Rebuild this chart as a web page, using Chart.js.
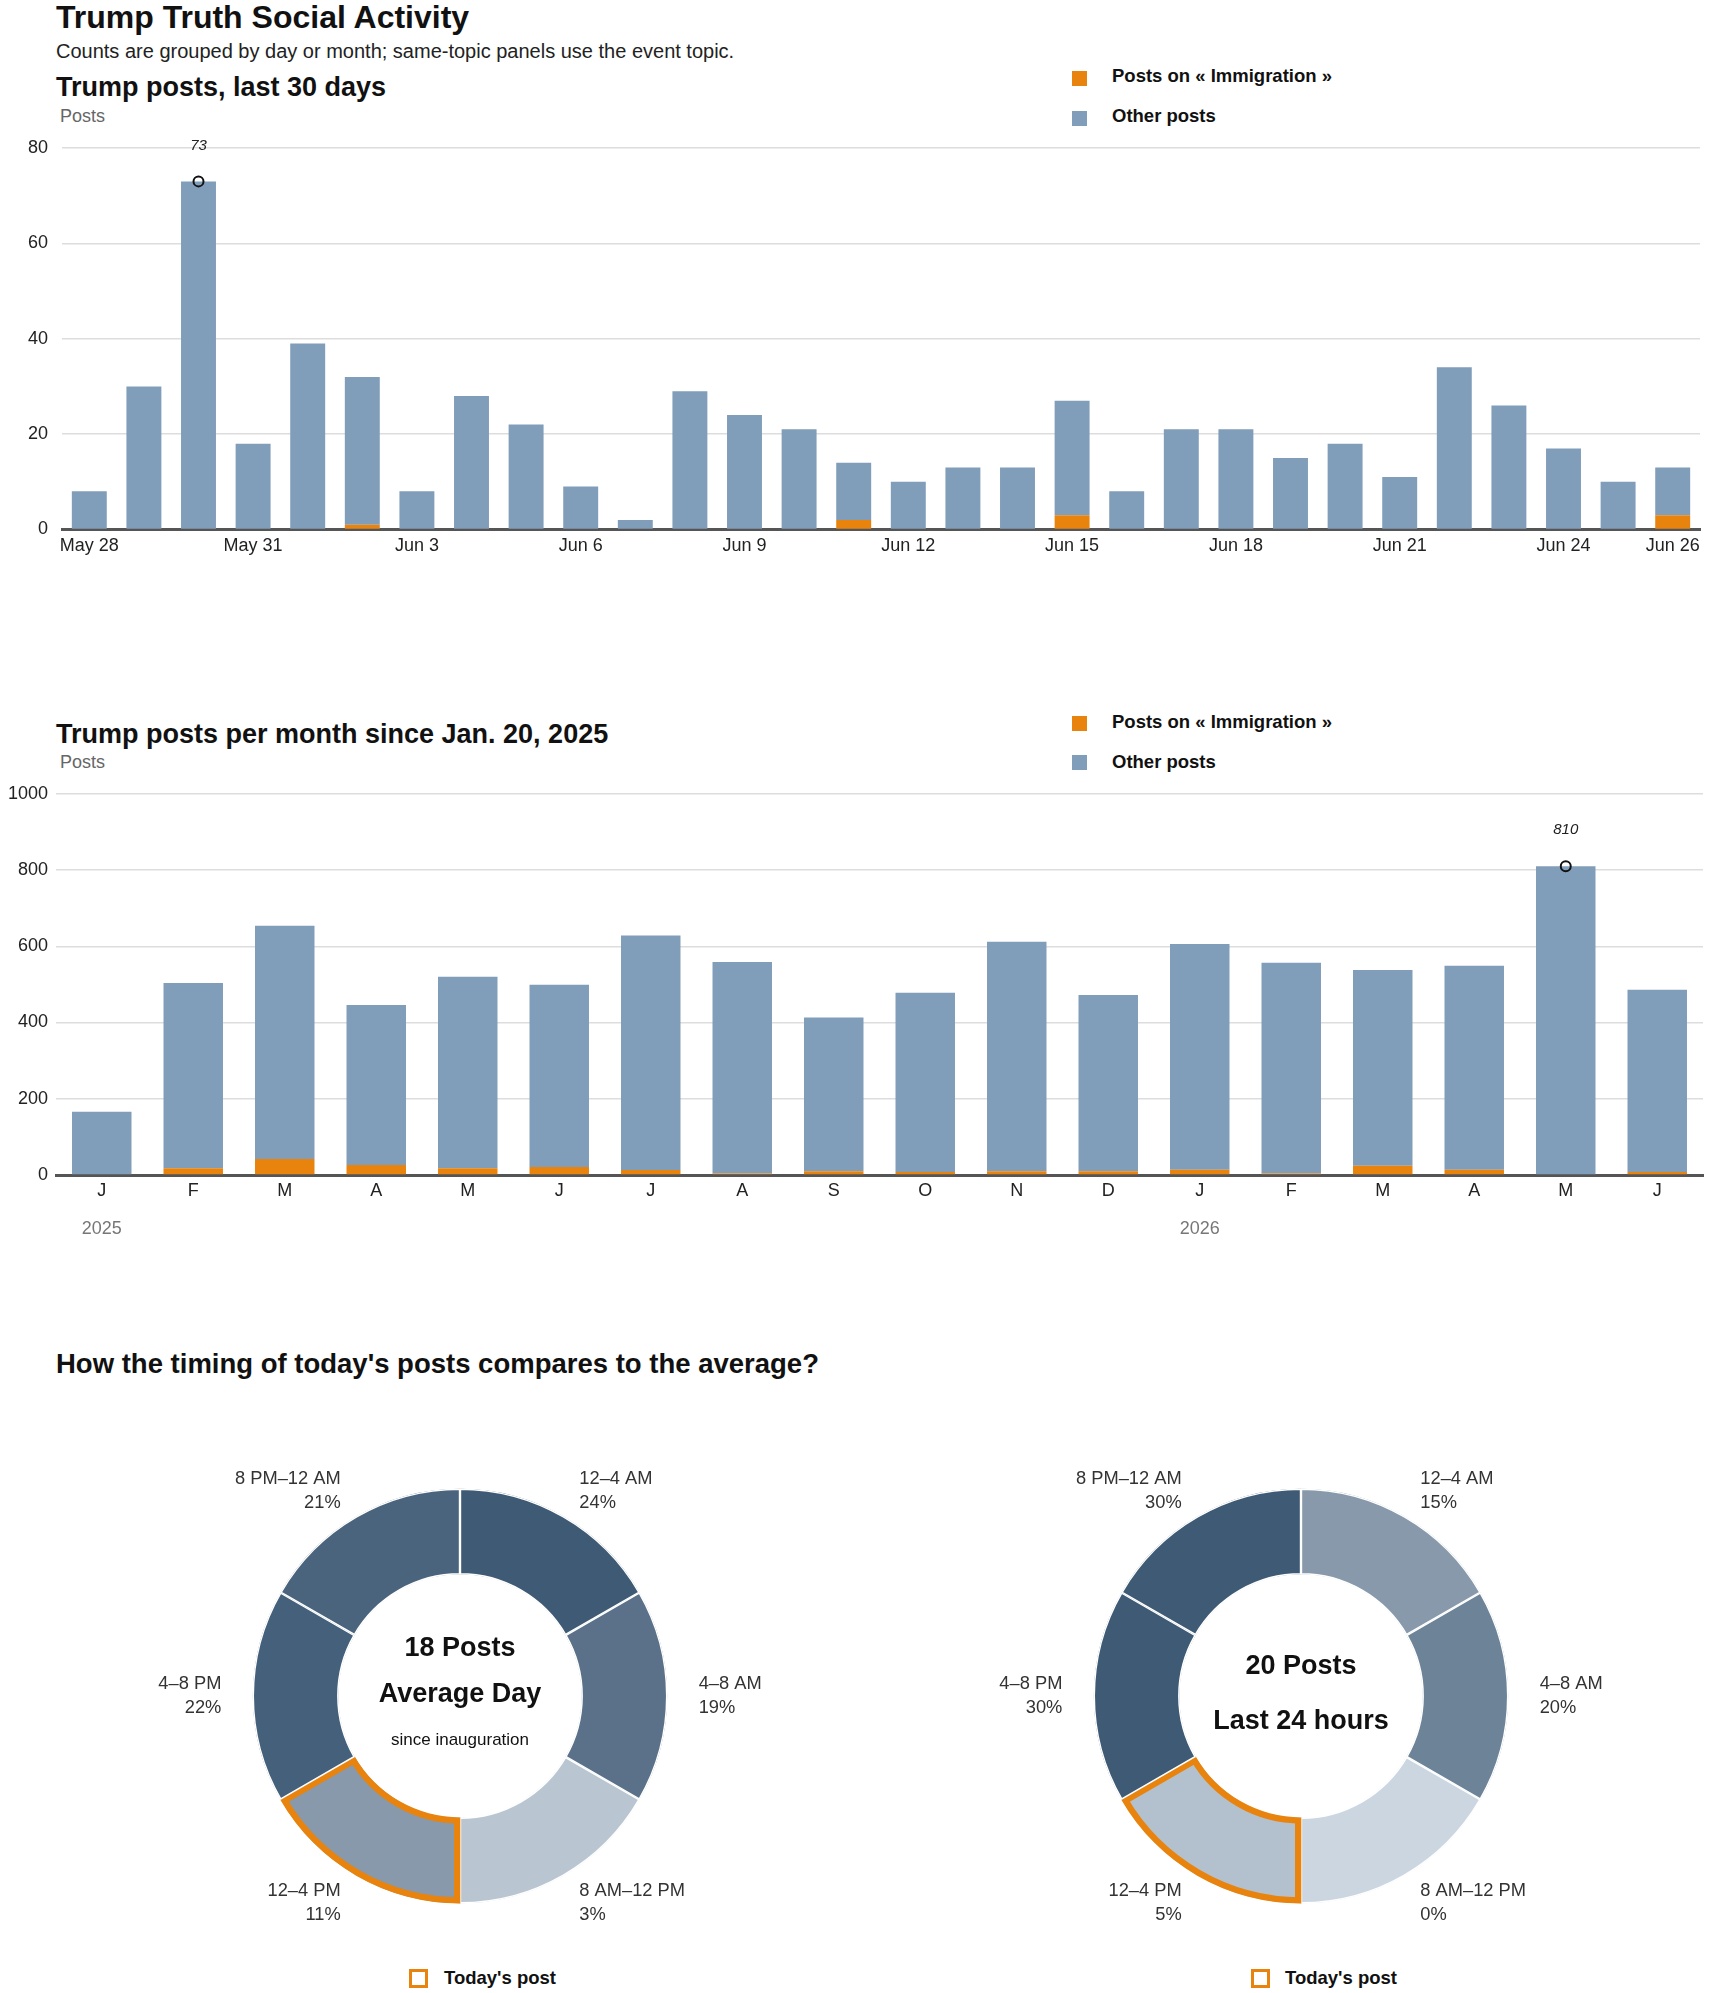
<!DOCTYPE html>
<html>
<head>
<meta charset="utf-8">
<title>Trump Truth Social Activity</title>
<script src="https://cdn.jsdelivr.net/npm/chart.js@4.4.1/dist/chart.umd.min.js"></script>
<style>
  body { margin: 0; background: #fff; width: 1710px; height: 1993px; position: relative; overflow: hidden;
         font-family: 'Liberation Sans Narrow', 'Liberation Sans', Arial, sans-serif; color: #111; }
  .abs { position: absolute; white-space: nowrap; line-height: 1; }
  .head { font-weight: bold; }
  .sub { font-size: 20px; color: #222; }
  .unit { font-size: 18px; color: #666; }
  .leg { font-family: 'Liberation Sans', Arial, sans-serif; font-weight: bold; font-size: 18.5px; color: #111; }
  .sq { position: absolute; width: 15px; height: 15px; }
  .box { position: absolute; width: 13px; height: 13px; border: 3px solid #e8830e; }
</style>
</head>
<body>

<div class="abs head" style="left:56px; top:1px; font-size:32px;">Trump Truth Social Activity</div>
<div class="abs sub" style="left:56px; top:41px;">Counts are grouped by day or month; same-topic panels use the event topic.</div>

<!-- chart 1 -->
<div class="abs head" style="left:56px; top:74px; font-size:27px;">Trump posts, last 30 days</div>
<div class="abs unit" style="left:60px; top:107px;">Posts</div>
<div class="sq" style="left:1072px; top:71px; background:#e8830e;"></div>
<div class="abs leg" style="left:1112px; top:67px;">Posts on « Immigration »</div>
<div class="sq" style="left:1072px; top:111px; background:#809db9;"></div>
<div class="abs leg" style="left:1112px; top:107px;">Other posts</div>
<div class="abs" style="left:0; top:122.5px; width:1710px; height:436.5px;"><canvas id="dayChart"></canvas></div>

<!-- chart 2 -->
<div class="abs head" style="left:56px; top:721px; font-size:27px;">Trump posts per month since Jan. 20, 2025</div>
<div class="abs unit" style="left:60px; top:753px;">Posts</div>
<div class="sq" style="left:1072px; top:716px; background:#e8830e;"></div>
<div class="abs leg" style="left:1112px; top:713px;">Posts on « Immigration »</div>
<div class="sq" style="left:1072px; top:755px; background:#809db9;"></div>
<div class="abs leg" style="left:1112px; top:753px;">Other posts</div>
<div class="abs" style="left:0; top:775px; width:1710px; height:470px;"><canvas id="monthChart"></canvas></div>

<!-- donuts -->
<div class="abs leg" style="left:56px; top:1350px; font-size:27.5px;">How the timing of today's posts compares to the average?</div>
<div class="abs" style="left:60px; top:1440px; width:800px; height:512px;"><canvas id="avgDonut"></canvas></div>
<div class="abs" style="left:901px; top:1440px; width:800px; height:512px;"><canvas id="todayDonut"></canvas></div>
<div class="box" style="left:409px; top:1969px;"></div>
<div class="abs leg" style="left:444px; top:1969px;">Today's post</div>
<div class="box" style="left:1251px; top:1969px;"></div>
<div class="abs leg" style="left:1285px; top:1969px;">Today's post</div>

<script>
// ---- data: last 30 days ----
const dayLabels = ["May 28", "May 29", "May 30", "May 31", "Jun 1", "Jun 2", "Jun 3", "Jun 4", "Jun 5", "Jun 6",
  "Jun 7", "Jun 8", "Jun 9", "Jun 10", "Jun 11", "Jun 12", "Jun 13", "Jun 14", "Jun 15", "Jun 16",
  "Jun 17", "Jun 18", "Jun 19", "Jun 20", "Jun 21", "Jun 22", "Jun 23", "Jun 24", "Jun 25", "Jun 26"];
const dayImmigration = [0, 0, 0, 0, 0, 1, 0, 0, 0, 0, 0, 0, 0, 0, 2, 0, 0, 0, 3, 0, 0, 0, 0, 0, 0, 0, 0, 0, 0, 3];
const dayOther = [8, 30, 73, 18, 39, 31, 8, 28, 22, 9, 2, 29, 24, 21, 12, 10, 13, 13, 24, 8, 21, 21, 15, 18, 11, 34, 26, 17, 10, 10];
const dayTicks = [0, 20, 40, 60, 80];
const dayPeakIndex = 2;

// ---- data: per month since Jan. 20, 2025 ----
const monthLabels = ["J", "F", "M", "A", "M", "J", "J", "A", "S", "O", "N", "D", "J", "F", "M", "A", "M", "J"];
const yearLabels = ["2025", "", "", "", "", "", "", "", "", "", "", "", "2026", "", "", "", "", ""];
const monthImmigration = [0, 18, 42, 26, 18, 21, 13, 4, 10, 8, 10, 10, 14, 4, 24, 14, 0, 8];
const monthOther = [166, 486, 612, 420, 502, 478, 615, 555, 403, 470, 602, 462, 592, 553, 514, 535, 810, 478];
const monthTicks = [0, 200, 400, 600, 800, 1000];
const monthPeakIndex = 16;

// ---- data: timing of posts ----
const slotLabels = ["12–4 AM", "4–8 AM", "8 AM–12 PM", "12–4 PM", "4–8 PM", "8 PM–12 AM"];
const slotHours = [4, 4, 4, 4, 4, 4];
const avgShare = [24, 19, 3, 11, 22, 21];
const todayShare = [15, 20, 0, 5, 30, 30];
const todaySlot = 3;

const ORANGE = "#e8830e";
const BLUE = "#809db9";
const NARROW = "'Liberation Sans Narrow', 'Liberation Sans', Arial, sans-serif";

Chart.defaults.font.family = NARROW;
Chart.defaults.color = "#222";
Chart.defaults.animation = false;

function sumArrays(a, b) {
  return a.map(function (v, i) { return v + b[i]; });
}

// italic number above the open circle on the biggest bar
const peakLabel = {
  id: "peakLabel",
  afterDatasetsDraw(chart) {
    const meta = chart.getDatasetMeta(2);
    const ctx = chart.ctx;
    meta.data.forEach(function (pt, i) {
      const v = chart.data.datasets[2].data[i];
      if (v == null) return;
      ctx.save();
      ctx.font = "italic 15px " + NARROW;
      ctx.fillStyle = "#222";
      ctx.textAlign = "center";
      ctx.textBaseline = "middle";
      ctx.fillText(String(v), pt.x, pt.y - 36);
      ctx.restore();
    });
  },
};

function barChart(id, labels, imm, other, ticks, peakIdx, withYears) {
  const totals = sumArrays(imm, other);
  const peak = totals.map(function (v, i) { return i === peakIdx ? v : null; });
  const yWidth = withYears ? 56 : 62;
  const scales = {
    x: {
      stacked: true,
      grid: { display: false },
      border: { display: true, color: "#555", width: 3 },
      ticks: {
        autoSkip: false, maxRotation: 0, padding: withYears ? -3 : -2, color: "#222", font: { size: 18 },
        callback: function (val, idx) {
          if (withYears) return labels[idx];
          return (idx % 3 === 0 || idx === labels.length - 1) ? labels[idx] : "";
        },
      },
      afterFit: function (s) { s.height = 30; },
    },
    y: {
      stacked: true,
      min: 0,
      max: ticks[ticks.length - 1],
      afterBuildTicks: function (s) { s.ticks = ticks.map(function (t) { return { value: t }; }); },
      grid: { color: "#dddddd", lineWidth: 1.5, drawTicks: false },
      border: { display: false },
      ticks: { padding: yWidth - 48, color: "#222", font: { size: 18 },
        callback: function (v) { return String(v); } },
      afterFit: function (s) { s.width = yWidth; },
    },
  };
  if (withYears) {
    scales.x2 = {
      type: "category",
      labels: yearLabels,
      position: "bottom",
      offset: true,
      grid: { display: false },
      border: { display: false },
      ticks: { autoSkip: false, maxRotation: 0, padding: 5, color: "#777", font: { size: 18 } },
      afterFit: function (s) { s.height = 40; },
    };
  }
  return new Chart(document.getElementById(id), {
    type: "bar",
    data: {
      labels: labels,
      datasets: [
        { label: "Posts on « Immigration »", data: imm, backgroundColor: ORANGE, order: 1,
          categoryPercentage: 1, barPercentage: withYears ? 0.65 : 0.64 },
        { label: "Other posts", data: other, backgroundColor: BLUE, order: 1,
          categoryPercentage: 1, barPercentage: withYears ? 0.65 : 0.64 },
        { type: "line", label: "peak", data: peak, showLine: false, order: 0,
          pointRadius: 5, pointBorderWidth: 2, pointBorderColor: "#111",
          pointBackgroundColor: "rgba(0,0,0,0)", pointStyle: "circle" },
      ],
    },
    options: {
      responsive: true,
      maintainAspectRatio: false,
      layout: { padding: { top: withYears ? 18 : 25, right: withYears ? 3 : 10, left: 0, bottom: 0 } },
      plugins: { legend: { display: false }, tooltip: { enabled: false } },
      scales: scales,
    },
    plugins: [peakLabel],
  });
}

barChart("dayChart", dayLabels, dayImmigration, dayOther, dayTicks, dayPeakIndex, false);
barChart("monthChart", monthLabels, monthImmigration, monthOther, monthTicks, monthPeakIndex, true);

// slot labels around donut + centre text
function donutText(centerLines) {
  return {
    id: "donutText",
    afterDraw(chart) {
      const ctx = chart.ctx;
      const meta = chart.getDatasetMeta(0);
      const shares = chart.data.datasets[0].shares;
      meta.data.forEach(function (arc, i) {
        const mid = (arc.startAngle + arc.endAngle) / 2;
        const r = arc.outerRadius * 1.15;
        const x = arc.x + Math.cos(mid) * r;
        const y = arc.y + Math.sin(mid) * r + (Math.sin(mid) < -0.1 ? 2 : 0);
        const c = Math.cos(mid);
        ctx.save();
        ctx.font = "18.3px " + NARROW;
        ctx.fillStyle = "#333";
        ctx.textAlign = c > 0.01 ? "left" : (c < -0.01 ? "right" : "center");
        ctx.textBaseline = "middle";
        ctx.fillText(chart.data.labels[i], x, y - 12);
        ctx.fillText(shares[i] + "%", x, y + 12);
        ctx.restore();
      });
      const a = meta.data[0];
      ctx.save();
      ctx.textAlign = "center";
      ctx.textBaseline = "middle";
      ctx.fillStyle = "#111";
      centerLines.forEach(function (l) {
        ctx.font = l.font;
        ctx.fillText(l.text, a.x, a.y + l.dy);
      });
      ctx.restore();
    },
  };
}

function donut(id, shares, colors, centerLines) {
  return new Chart(document.getElementById(id), {
    type: "doughnut",
    data: {
      labels: slotLabels,
      datasets: [{
        data: slotHours,
        shares: shares,
        backgroundColor: colors,
        borderColor: slotHours.map(function (h, i) { return i === todaySlot ? ORANGE : "#ffffff"; }),
        borderWidth: slotHours.map(function (h, i) { return i === todaySlot ? 6 : 1.2; }),
        borderAlign: "inner",
        borderJoinStyle: "miter",
      }],
    },
    options: {
      responsive: true,
      maintainAspectRatio: false,
      cutout: "58.5%",
      layout: { padding: { left: 192.5, right: 192.5, top: 48.5, bottom: 48.5 } },
      plugins: { legend: { display: false }, tooltip: { enabled: false } },
    },
    plugins: [donutText(centerLines)],
  });
}

donut("avgDonut", avgShare,
  ["#3e5a75", "#5b7189", "#b9c6d2", "#8799ab", "#44607b", "#4b647e"],
  [
    { text: "18 Posts", font: "bold 27px " + NARROW, dy: -47.5 },
    { text: "Average Day", font: "bold 27px " + NARROW, dy: -1.5 },
    { text: "since inauguration", font: "17px " + NARROW, dy: 44.5 },
  ]);

donut("todayDonut", todayShare,
  ["#8799aa", "#6d8398", "#cbd6e0", "#b3c1ce", "#3e5a75", "#3e5a75"],
  [
    { text: "20 Posts", font: "bold 27px " + NARROW, dy: -29.5 },
    { text: "Last 24 hours", font: "bold 27px " + NARROW, dy: 25.5 },
  ]);
</script>
</body>
</html>
